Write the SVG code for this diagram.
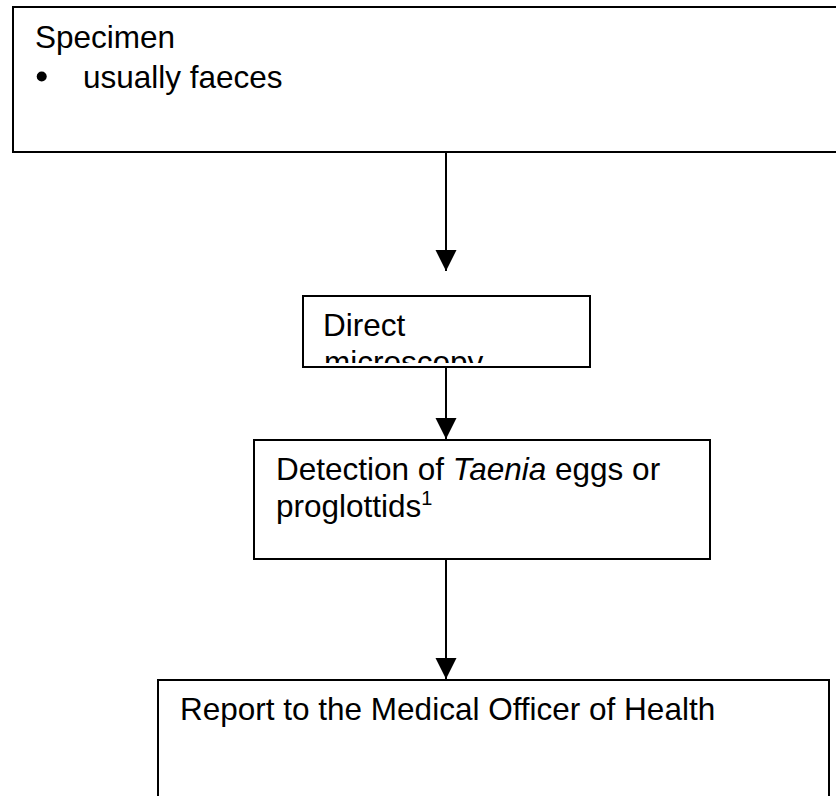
<svg xmlns="http://www.w3.org/2000/svg" width="836" height="796" viewBox="0 0 836 796">
  <defs>
    <marker id="arrow" markerUnits="userSpaceOnUse" markerWidth="22" markerHeight="22" viewBox="0 0 22 22" refX="21" refY="11" orient="auto">
      <path d="M0,0.5 L21,11 L0,21.5 Z" fill="#000"/>
    </marker>
    <clipPath id="clipDirect">
      <rect x="303" y="296" width="287" height="67"/>
    </clipPath>
  </defs>
  <style>
    .box { fill: #fff; stroke: #000; stroke-width: 2; }
    .lbl { font-family: "Liberation Sans", Arial, sans-serif; font-size: 31.5px; fill: #000; }
    .conn { stroke: #000; stroke-width: 2; fill: none; }
  </style>
  <rect width="836" height="796" fill="#fff"/>

  <g id="specimen">
    <rect class="box" x="13" y="7" width="840" height="145"/>
    <text class="lbl" x="35" y="48">Specimen</text>
    <circle cx="41.7" cy="76.5" r="5"/>
    <text class="lbl" x="83" y="87.5">usually faeces</text>
  </g>

  <g id="direct">
    <rect class="box" x="303" y="296" width="287" height="71"/>
    <g clip-path="url(#clipDirect)">
      <text class="lbl" x="323" y="336">Direct</text>
      <text class="lbl" x="324" y="373">microscopy</text>
    </g>
  </g>

  <g id="detection">
    <rect class="box" x="254" y="440" width="456" height="119"/>
    <text class="lbl" x="276" y="480">Detection of <tspan font-style="italic">Taenia</tspan> eggs or</text>
    <text class="lbl" x="276" y="516.5">proglottids<tspan font-size="20" dy="-12">1</tspan></text>
  </g>

  <g id="report">
    <rect class="box" x="158" y="680" width="671" height="130"/>
    <text class="lbl" x="180" y="720">Report to the Medical Officer of Health</text>
  </g>

  <g id="connectors">
    <line class="conn" x1="446" y1="152" x2="446" y2="271" marker-end="url(#arrow)"/>
    <line class="conn" x1="446" y1="367" x2="446" y2="439" marker-end="url(#arrow)"/>
    <line class="conn" x1="446" y1="559" x2="446" y2="679" marker-end="url(#arrow)"/>
  </g>
</svg>
